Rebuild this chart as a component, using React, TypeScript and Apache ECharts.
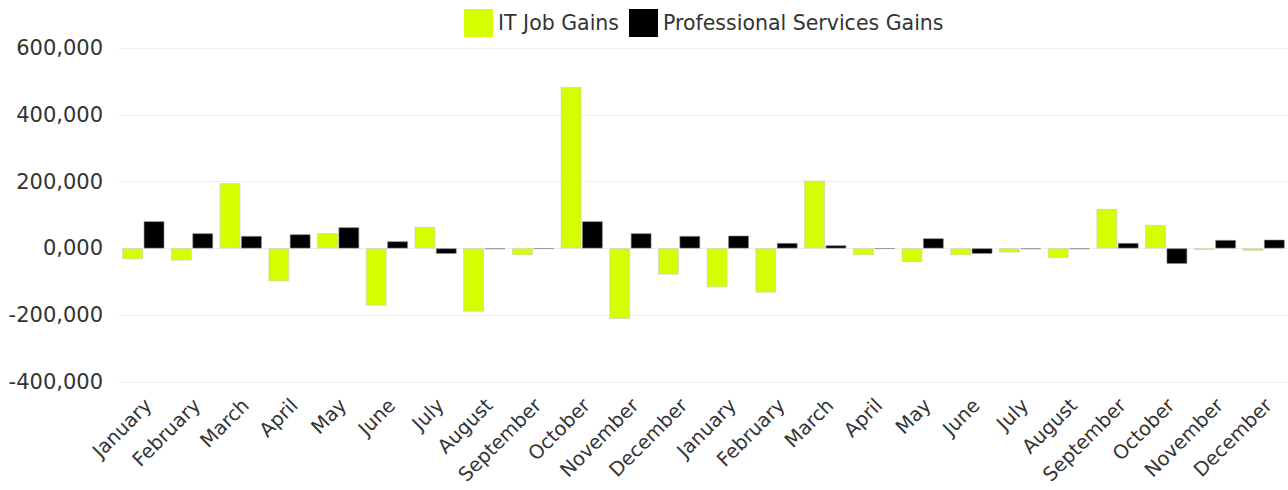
import React, { useEffect, useRef } from "react";
import * as echarts from "echarts";

const months = [
  "January", "February", "March", "April", "May", "June",
  "July", "August", "September", "October", "November", "December",
  "January", "February", "March", "April", "May", "June",
  "July", "August", "September", "October", "November", "December",
];

const itJobGains = [
  -32000, -36000, 195000, -98000, 45000, -171000,
  64000, -189000, -20000, 483000, -211000, -78000,
  -116000, -132000, 203000, -20000, -40000, -20000,
  -12000, -28000, 118000, 70000, -4000, -7000,
];

const professionalServicesGains = [
  81000, 45000, 37000, 42000, 63000, 21000,
  -16000, -2000, -1000, 81000, 45000, 37000,
  38000, 16000, 9000, -1000, 30000, -16000,
  -2000, -2000, 16000, -46000, 25000, 26000,
];

const yTickValues = [-400000, -200000, 0, 200000, 400000, 600000];
const yTickLabels = ["-400,000", "-200,000", "0,000", "200,000", "400,000", "600,000"];

const FONT = "DejaVu Sans";

export default function App() {
  const ref = useRef<HTMLDivElement>(null);

  useEffect(() => {
    if (!ref.current) return;
    const chart = echarts.init(ref.current, null, { renderer: "svg" });
    chart.setOption({
      animation: false,
      backgroundColor: "#ffffff",
      textStyle: { fontFamily: FONT },
      legend: {
        top: 4,
        left: 459,
        itemWidth: 29,
        itemHeight: 28,
        itemGap: 10,
        icon: "rect",
        itemStyle: { borderWidth: 0 },
        textStyle: { fontFamily: FONT, fontSize: 20.5, color: "#333" },
        data: ["IT Job Gains", "Professional Services Gains"],
      },
      grid: { left: 119, right: -12, top: 48, bottom: 108, containLabel: false },
      xAxis: {
        type: "category",
        data: months,
        axisLine: { show: false, onZero: false },
        axisTick: { show: false },
        axisLabel: {
          rotate: 45,
          interval: 0,
          margin: 25,
          padding: [0, -7, 0, 0],
          fontFamily: FONT,
          fontSize: 19.5,
          color: "#333",
        },
      },
      yAxis: {
        type: "value",
        min: -400000,
        max: 600000,
        interval: 200000,
        axisLine: { show: false },
        axisTick: { show: false },
        splitLine: { lineStyle: { color: "#eeeeee", width: 1 } },
        axisLabel: {
          margin: 16,
          fontFamily: FONT,
          fontSize: 21,
          color: "#333",
          formatter: (v: number) => {
            const i = yTickValues.indexOf(v);
            return i >= 0 ? yTickLabels[i] : String(v);
          },
        },
      },
      series: [
        {
          name: "IT Job Gains",
          type: "bar",
          data: itJobGains,
          barGap: "4%",
          barCategoryGap: "14%",
          itemStyle: { color: "#d4ff00", borderColor: "#c8c8c8", borderWidth: 0.6 },
        },
        {
          name: "Professional Services Gains",
          type: "bar",
          data: professionalServicesGains,
          barGap: "4%",
          barCategoryGap: "14%",
          itemStyle: { color: "#000000", borderColor: "#888888", borderWidth: 0.6 },
        },
      ],
    });
    return () => chart.dispose();
  }, []);

  return (
    <div
      ref={ref}
      style={{ position: "fixed", left: 0, top: 0, width: 1288, height: 490 }}
    />
  );
}
